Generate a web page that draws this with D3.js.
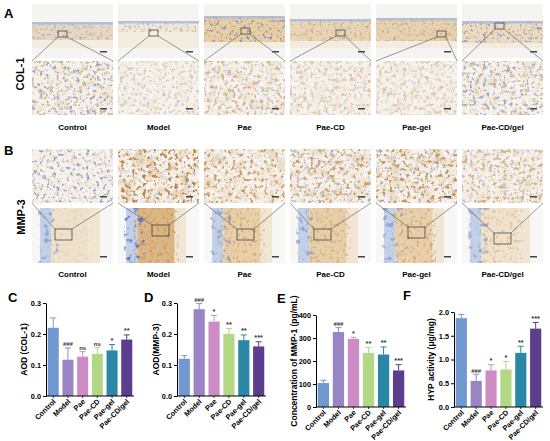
<!DOCTYPE html>
<html>
<head>
<meta charset="utf-8">
<script src="https://cdn.jsdelivr.net/npm/d3@7"></script>
<style>
body { margin: 0; background: #fff; }
svg { display: block; font-family: "Liberation Sans", Arial, sans-serif; }
.bold { font-weight: bold; }
</style>
</head>
<body>
<svg width="550" height="441"></svg>
<script>
//Groups and their bar colours.
var groups = ['Control', 'Model', 'Pae', 'Pae-CD', 'Pae-gel', 'Pae-CD/gel'];
var barColors = ['#7198d1', '#9985c4', '#cd8dc4', '#b3d784', '#2a87a6', '#5b3e8d'];

//C: AOD of COL-1.
var col1Mean = [0.22, 0.117, 0.127, 0.136, 0.147, 0.182];
var col1Err = [0.032, 0.038, 0.016, 0.02, 0.019, 0.015];
var col1Sig = ['', '###', 'ns', 'ns', '*', '**'];
//D: AOD of MMP-3.
var mmp3Mean = [0.12, 0.28, 0.24, 0.20, 0.18, 0.16];
var mmp3Err = [0.01, 0.018, 0.02, 0.018, 0.017, 0.015];
var mmp3Sig = ['', '###', '*', '**', '**', '***'];
//E: MMP-1 concentration (pg/mL).
var mmp1Mean = [104, 326, 296, 235, 228, 159];
var mmp1Err = [12, 19, 7, 23, 33, 25];
var mmp1Sig = ['', '###', '*', '**', '**', '***'];
//F: HYP activity (ug/mg).
var hypMean = [1.87, 0.55, 0.77, 0.79, 1.14, 1.65];
var hypErr = [0.08, 0.14, 0.12, 0.17, 0.14, 0.13];
var hypSig = ['', '###', '*', '*', '**', '***'];

var svg = d3.select('svg');
var defs = svg.append('defs');

//---------- Micrograph panels (A, B), drawn as textured placeholders ----------
var colX = [32, 118, 204, 290, 376, 462], imgW = 81, imgH = 54;
//Zoom boxes, relative to each column's image.
var boxA = [[26, 27], [31, 26], [37, 24], [46, 26], [61, 27], [33, 19]];
var boxB = [[23, 21], [34, 17], [33, 21], [24, 21], [32, 19], [32, 25]];
//Texture strengths per column.
var aHiBrown = [0.45, 0.25, 0.5, 0.35, 0.32, 0.45], aHiBlue = [0.75, 0.35, 0.35, 0.3, 0.3, 0.7];
var bHiBrown = [0.22, 1, 0.75, 0.7, 0.85, 0.55], bHiBlue = [0.8, 0.35, 0.2, 0.45, 0.45, 0.35];
var aBandTop = [18, 17, 12, 15, 14, 17], aBandBot = [36, 28, 38, 37, 37, 39];
var aBandCol = ['#e6d8c6', '#efe8dc', '#e9cfa6', '#ead6b7', '#e8d2b0', '#ecdcc4'];
var bTanCol = ['#efe2cc', '#dcb685', '#e9d0aa', '#e7cfaa', '#e8d0ad', '#f0e2cc'];

var fid = 0;
function noise(freq, seed, rgb, gain, bias) {
	var id = 'n' + (fid++);
	var f = defs.append('filter').attr('id', id)
		.attr('x', 0).attr('y', 0).attr('width', 1).attr('height', 1)
		.attr('color-interpolation-filters', 'sRGB');
	f.append('feTurbulence').attr('type', 'fractalNoise')
		.attr('baseFrequency', freq).attr('numOctaves', 2).attr('seed', seed);
	f.append('feColorMatrix').attr('type', 'matrix')
		.attr('values', '0 0 0 0 ' + rgb[0] + ' 0 0 0 0 ' + rgb[1] + ' 0 0 0 0 ' + rgb[2] + ' ' + gain + ' 0 0 0 ' + bias);
	return 'url(#' + id + ')';
}
var BROWN = [0.76, 0.52, 0.25], BLUE = [0.45, 0.58, 0.82];

function texRect(g, x, y, w, h, filt, op) {
	g.append('rect').attr('x', x).attr('y', y).attr('width', w).attr('height', h)
		.attr('filter', filt).attr('opacity', op);
}
function scaleBar(g, x, y) {
	g.append('rect').attr('x', x + imgW - 13).attr('y', y + imgH - 7)
		.attr('width', 7).attr('height', 1.5).attr('fill', '#444');
}
function hiMag(x, y, brown, blue, seed) {
	var g = svg.append('g');
	g.append('rect').attr('x', x).attr('y', y).attr('width', imgW).attr('height', imgH).attr('fill', '#f7f3ec');
	texRect(g, x, y, imgW, imgH, noise(0.09, seed + 100, [0.9, 0.8, 0.65], 3, -1.3), brown * 0.8);
	texRect(g, x, y, imgW, imgH, noise(0.28, seed, BROWN, 7, -3.9), brown);
	texRect(g, x, y, imgW, imgH, noise(0.3, seed + 40, BLUE, 7, -4.1), blue);
	scaleBar(g, x, y);
}

//Panel A: low magnification on top, zoomed view below.
groups.forEach(function(name, i) {
	var x = colX[i], y = 4;
	var g = svg.append('g');
	g.append('rect').attr('x', x).attr('y', y).attr('width', imgW).attr('height', imgH).attr('fill', '#f5f4f2');
	g.append('rect').attr('x', x).attr('y', y + aBandBot[i]).attr('width', imgW).attr('height', imgH - aBandBot[i] - 10)
		.attr('fill', '#f3ece1');
	g.append('rect').attr('x', x).attr('y', y + aBandTop[i]).attr('width', imgW).attr('height', aBandBot[i] - aBandTop[i])
		.attr('fill', aBandCol[i]);
	texRect(g, x, y + aBandTop[i], imgW, aBandBot[i] - aBandTop[i], noise(0.35, i + 10, BROWN, 6, -3.4), 0.4);
	texRect(g, x, y + aBandTop[i], imgW, aBandBot[i] - aBandTop[i], noise(0.3, i + 20, BLUE, 7, -4.2), i === 5 || i === 2 ? 0.9 : 0.35);
	g.append('rect').attr('x', x).attr('y', y + aBandTop[i]).attr('width', imgW).attr('height', 2.5)
		.attr('fill', '#a8b9dc').attr('opacity', 0.8);
	scaleBar(g, x, y);
	hiMag(x, 61, aHiBrown[i], aHiBlue[i], i + 1);
	var bx = x + boxA[i][0], by = y + boxA[i][1], bw = 9, bh = 6;
	svg.append('rect').attr('x', bx).attr('y', by).attr('width', bw).attr('height', bh)
		.attr('fill', 'none').attr('stroke', '#333').attr('stroke-width', 0.7);
	svg.append('line').attr('x1', bx).attr('y1', by + bh).attr('x2', x).attr('y2', 61)
		.attr('stroke', '#555').attr('stroke-width', 0.6);
	svg.append('line').attr('x1', bx + bw).attr('y1', by + bh).attr('x2', x + imgW).attr('y2', 61)
		.attr('stroke', '#555').attr('stroke-width', 0.6);
	svg.append('text').attr('class', 'bold').attr('x', x + imgW / 2).attr('y', 130)
		.attr('text-anchor', 'middle').attr('font-size', 8).text(name);
});

//Panel B: zoomed view on top, low magnification below.
groups.forEach(function(name, i) {
	var x = colX[i], y = 208;
	hiMag(x, 149, bHiBrown[i], bHiBlue[i], i + 60);
	var g = svg.append('g');
	g.append('rect').attr('x', x).attr('y', y).attr('width', imgW).attr('height', imgH + 1).attr('fill', '#f7f7f6');
	g.append('rect').attr('x', x + imgW * 0.1).attr('y', y).attr('width', imgW * 0.14).attr('height', imgH + 1)
		.attr('fill', '#c3d0e6');
	g.append('rect').attr('x', x + imgW * 0.24).attr('y', y).attr('width', imgW * 0.46).attr('height', imgH + 1)
		.attr('fill', bTanCol[i]);
	g.append('rect').attr('x', x + imgW * 0.7).attr('y', y).attr('width', imgW * 0.14).attr('height', imgH + 1)
		.attr('fill', '#f1e6d4');
	texRect(g, x + imgW * 0.2, y, imgW * 0.55, imgH + 1, noise(0.3, i + 80, BROWN, 6, -3.3), bHiBrown[i] * 0.55);
	texRect(g, x + imgW * 0.08, y, imgW * 0.25, imgH + 1, noise(0.18, i + 90, [0.35, 0.45, 0.78], 6, -3.4), i === 1 ? 0.9 : 0.45);
	scaleBar(g, x, y + 1);
	var bx = x + boxB[i][0], by = y + boxB[i][1], bw = 17, bh = 11;
	svg.append('rect').attr('x', bx).attr('y', by).attr('width', bw).attr('height', bh)
		.attr('fill', 'none').attr('stroke', '#333').attr('stroke-width', 0.7);
	svg.append('line').attr('x1', bx).attr('y1', by).attr('x2', x).attr('y2', 203)
		.attr('stroke', '#555').attr('stroke-width', 0.6);
	svg.append('line').attr('x1', bx + bw).attr('y1', by).attr('x2', x + imgW).attr('y2', 203)
		.attr('stroke', '#555').attr('stroke-width', 0.6);
	svg.append('text').attr('class', 'bold').attr('x', x + imgW / 2).attr('y', 277)
		.attr('text-anchor', 'middle').attr('font-size', 8).text(name);
});

//Row labels and panel letters.
svg.append('text').attr('class', 'bold').attr('font-size', 11)
	.attr('transform', 'translate(24,74) rotate(-90)').attr('text-anchor', 'middle').text('COL-1');
svg.append('text').attr('class', 'bold').attr('font-size', 11)
	.attr('transform', 'translate(25,217) rotate(-90)').attr('text-anchor', 'middle').text('MMP-3');
[['A', 4, 18], ['B', 4, 155], ['C', 8, 302], ['D', 144, 302], ['E', 277, 303], ['F', 403, 300]].forEach(function(p) {
	svg.append('text').attr('class', 'bold').attr('font-size', 13).attr('x', p[1]).attr('y', p[2]).text(p[0]);
});

//---------- Bar charts (C-F) ----------
function barChart(o) {
	var g = svg.append('g');
	var y = d3.scaleLinear().domain([0, o.max]).range([o.y0, o.y1]);
	var x = d3.scaleBand().domain(groups).range([o.x0 + 1, o.x1]).paddingInner(0.25).paddingOuter(0.05);
	//Bars.
	g.selectAll('rect.bar').data(o.mean).enter().append('rect')
		.attr('x', function(d, i) { return x(groups[i]); })
		.attr('y', function(d) { return y(d); })
		.attr('width', x.bandwidth())
		.attr('height', function(d) { return o.y0 - y(d); })
		.attr('fill', function(d, i) { return barColors[i]; });
	//Upper error whiskers with caps.
	o.mean.forEach(function(m, i) {
		var cx = x(groups[i]) + x.bandwidth() / 2, top = y(m + o.err[i]);
		g.append('line').attr('x1', cx).attr('x2', cx).attr('y1', y(m)).attr('y2', top)
			.attr('stroke', barColors[i]).attr('stroke-width', 1);
		g.append('line').attr('x1', cx - 3).attr('x2', cx + 3).attr('y1', top).attr('y2', top)
			.attr('stroke', barColors[i]).attr('stroke-width', 1);
		g.append('text').attr('class', 'bold').attr('x', cx).attr('y', top - 1.5)
			.attr('text-anchor', 'middle').attr('font-size', o.sig[i].charAt(0) === '*' ? 7.5 : 6)
			.attr('fill', '#333').text(o.sig[i]);
		//Small tick under each bar.
		g.append('line').attr('x1', cx).attr('x2', cx).attr('y1', o.y0).attr('y2', o.y0 + 2)
			.attr('stroke', '#000').attr('stroke-width', 0.8);
		g.append('text').attr('class', 'bold').attr('font-size', 7.3)
			.attr('text-anchor', 'end')
			.attr('transform', 'translate(' + (cx + 3) + ',' + (o.y0 + 6) + ') rotate(-45)')
			.text(groups[i]);
	});
	//Axes.
	var yAxis = g.append('g').attr('transform', 'translate(' + o.x0 + ',0)')
		.call(d3.axisLeft(y).tickValues(o.ticks).tickFormat(o.fmt).tickSize(3).tickPadding(2).tickSizeOuter(0));
	yAxis.selectAll('text').attr('class', 'bold').attr('font-size', 7.3)
		.attr('font-family', '"Liberation Sans", Arial, sans-serif').attr('fill', '#000');
	yAxis.selectAll('path, line').attr('stroke', '#000').attr('stroke-width', 1);
	g.append('line').attr('x1', o.x0).attr('x2', o.x1 + 1).attr('y1', o.y0).attr('y2', o.y0)
		.attr('stroke', '#000').attr('stroke-width', 1);
	g.append('text').attr('class', 'bold').attr('font-size', o.titleSize || 8.5)
		.attr('text-anchor', 'middle')
		.attr('transform', 'translate(' + o.tx + ',' + ((o.y0 + o.y1) / 2) + ') rotate(-90)')
		.text(o.title);
}

barChart({x0: 46, x1: 133, y0: 396, y1: 303, max: 0.3, ticks: [0, 0.1, 0.2, 0.3], fmt: d3.format('.1f'),
	mean: col1Mean, err: col1Err, sig: col1Sig, title: 'AOD (COL-1)', tx: 27});
barChart({x0: 177, x1: 265, y0: 396, y1: 303, max: 0.3, ticks: [0, 0.1, 0.2, 0.3], fmt: d3.format('.1f'),
	mean: mmp3Mean, err: mmp3Err, sig: mmp3Sig, title: 'AOD(MMP-3)', tx: 159});
barChart({x0: 316, x1: 405, y0: 407, y1: 315, max: 400, ticks: [0, 100, 200, 300, 400], fmt: d3.format('d'),
	mean: mmp1Mean, err: mmp1Err, sig: mmp1Sig, title: 'Concentration of MMP-1 (pg/mL)', tx: 297});
barChart({x0: 454, x1: 542, y0: 407, y1: 312, max: 2.0, ticks: [0, 0.5, 1.0, 1.5, 2.0], fmt: d3.format('.1f'),
	mean: hypMean, err: hypErr, sig: hypSig, title: 'HYP activity (\u03bcg/mg)', tx: 434});
</script>
</body>
</html>
